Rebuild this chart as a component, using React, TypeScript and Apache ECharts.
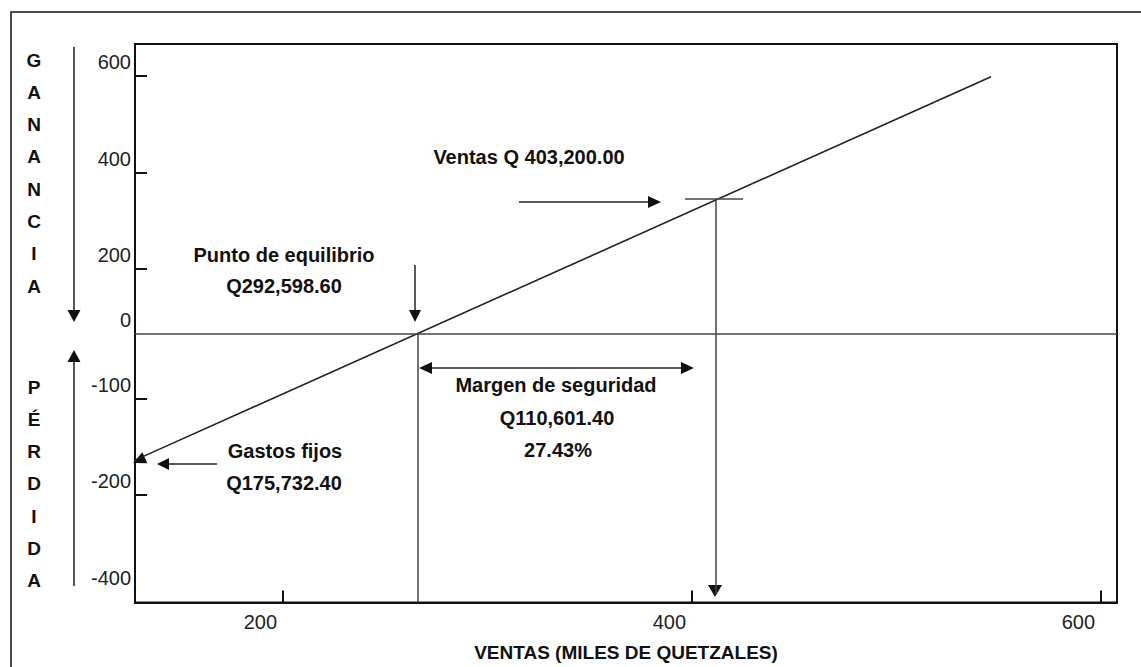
import React, { useEffect, useRef } from "react";
import * as echarts from "echarts";

// ---- data (axis units) ----
const ventas = [127.6, 546.2]; // x of profit line ends (miles de Q)
const ganancia = [-294.2, 597.7]; // y of profit line ends
const puntoEquilibrioX = 265.7;
const ventasPunto = [411.7, 315];
const xTicks = [200, 400, 600];
const yTickLabels = ["-400", "-200", "-100", "0", "200", "400", "600"];
const yTickPositions = [-600, -375, -151, 0, 151, 375, 600];
const yTickMarks = [-375, -151, 151, 375, 600];

const X_MIN = 127.6;
const X_MAX = 607.8;
const Y_MIN = -625.5;
const Y_MAX = 674.1;

const FONT = '"Liberation Sans", Arial, sans-serif';
const INK = "#111";

function arrowHead(tip: number[], dir: number[], len = 12, half = 6) {
  const n = Math.hypot(dir[0], dir[1]);
  const ux = dir[0] / n, uy = dir[1] / n;
  const bx = tip[0] - ux * len, by = tip[1] - uy * len;
  const px = -uy * half, py = ux * half;
  return {
    type: "polygon",
    shape: { points: [tip, [bx + px, by + py], [bx - px, by - py]] },
    style: { fill: INK },
    silent: true,
  };
}
function seg(x1: number, y1: number, x2: number, y2: number, color = "#333", w = 1.5) {
  return { type: "line", shape: { x1, y1, x2, y2 }, style: { stroke: color, lineWidth: w }, silent: true };
}
function txt(text: string, x: number, y: number, size = 20, extra: any = {}) {
  return {
    type: "text",
    x,
    y,
    silent: true,
    style: {
      text,
      font: `bold ${size}px ${FONT}`,
      fill: INK,
      align: "center",
      verticalAlign: "middle",
      ...extra,
    },
  };
}

export default function App() {
  const ref = useRef<HTMLDivElement>(null);
  useEffect(() => {
    if (!ref.current) return;
    const chart = echarts.init(ref.current, null, { renderer: "svg" });
    const option: any = {
      animation: false,
      backgroundColor: "#fff",
      grid: {
        left: 135,
        right: 24,
        top: 44,
        bottom: 62,
        show: true,
        borderColor: INK,
        borderWidth: 2,
      },
      xAxis: {
        type: "value",
        min: X_MIN,
        max: X_MAX,
        name: "VENTAS (MILES DE QUETZALES)",
        nameLocation: "middle",
        nameGap: 50,
        nameTextStyle: { fontFamily: FONT, fontWeight: "bold", fontSize: 19, color: INK, verticalAlign: "middle" },
        axisLine: { show: true, onZero: false, lineStyle: { color: INK, width: 2 } },
        axisTick: { show: true, inside: true, length: 12, customValues: xTicks, lineStyle: { color: INK, width: 2 } },
        axisLabel: {
          customValues: xTicks,
          fontFamily: FONT,
          fontSize: 20,
          color: "#222",
          margin: 9,
          align: "right",
          padding: [0, 6, 0, 0],
        },
        splitLine: { show: false },
      },
      yAxis: {
        type: "value",
        min: Y_MIN,
        max: Y_MAX,
        axisLine: { show: true, onZero: false, lineStyle: { color: INK, width: 2 } },
        axisTick: { show: true, inside: true, length: 12, customValues: yTickMarks, lineStyle: { color: INK, width: 2 } },
        axisLabel: {
          customValues: yTickPositions,
          formatter: (v: number) => {
            const i = yTickPositions.findIndex((p) => Math.abs(p - v) < 1);
            return i >= 0 ? yTickLabels[i] : "";
          },
          fontFamily: FONT,
          fontSize: 20,
          color: "#222",
          margin: 4,
          verticalAlign: "bottom",
          padding: [0, 0, 4, 0],
        },
        splitLine: { show: false },
      },
      series: [
        {
          type: "line",
          data: ventas.map((v, i) => [v, ganancia[i]]),
          showSymbol: false,
          symbol: "none",
          lineStyle: { color: "#222", width: 1.6 },
          silent: true,
          markLine: {
            silent: true,
            symbol: ["none", "none"],
            label: { show: false },
            lineStyle: { color: "#444", width: 1.5, type: "solid" },
            emphasis: { disabled: true },
            data: [
              [{ coord: [X_MIN, 0] }, { coord: [X_MAX, 0] }],
              [{ coord: [puntoEquilibrioX, 0] }, { coord: [puntoEquilibrioX, Y_MIN] }],
              [{ coord: [ventasPunto[0], ventasPunto[1]] }, { coord: [ventasPunto[0], -607] }],
              [{ coord: [ventasPunto[0] - 15.1, ventasPunto[1]] }, { coord: [ventasPunto[0] + 13.2, ventasPunto[1]] }],
            ],
          },
        },
      ],
      graphic: [
        {
          type: "rect",
          shape: { x: 11, y: 12, width: 1300, height: 800 },
          style: { fill: "none", stroke: INK, lineWidth: 1.5 },
          silent: true,
        },
        txt("G\nA\nN\nA\nN\nC\nI\nA", 34, 43.9, 19, { verticalAlign: "top", lineHeight: 32.3 }),
        txt("P\nÉ\nR\nD\nI\nD\nA", 34, 370.9, 19, { verticalAlign: "top", lineHeight: 32.3 }),
        seg(74, 47, 74, 312, "#555", 2),
        arrowHead([74, 322], [0, 1], 12, 6.5),
        seg(74, 360, 74, 586, "#555", 2),
        arrowHead([74, 350], [0, -1], 12, 6.5),
        // Punto de equilibrio
        txt("Punto de equilibrio", 284, 255),
        txt("Q292,598.60", 284, 286),
        seg(415, 265, 415, 312, "#222", 1.5),
        arrowHead([415, 322], [0, 1], 12, 6),
        // Ventas
        txt("Ventas Q 403,200.00", 529, 157),
        seg(519, 202, 650, 202, "#222", 1.5),
        arrowHead([661, 202], [1, 0], 13, 6),
        arrowHead([715, 597], [0, 1], 12, 7),
        // Margen de seguridad
        seg(428, 368, 685, 368, "#222", 1.5),
        arrowHead([419, 368], [-1, 0], 13, 6),
        arrowHead([694, 368], [1, 0], 13, 6),
        txt("Margen de seguridad", 556, 385),
        txt("Q110,601.40", 557, 418),
        txt("27.43%", 558, 450),
        // Gastos fijos
        seg(168, 464, 217, 464, "#222", 1.5),
        arrowHead([157, 464], [-1, 0], 12, 6),
        arrowHead([133, 463], [-856, 385], 13, 6),
        txt("Gastos fijos", 285, 451),
        txt("Q175,732.40", 284, 483),
      ],
    };
    chart.setOption(option);
    return () => chart.dispose();
  }, []);
  return (
    <div
      ref={ref}
      style={{ position: "fixed", left: 0, top: 0, width: 1141, height: 667, background: "#fff" }}
    />
  );
}
